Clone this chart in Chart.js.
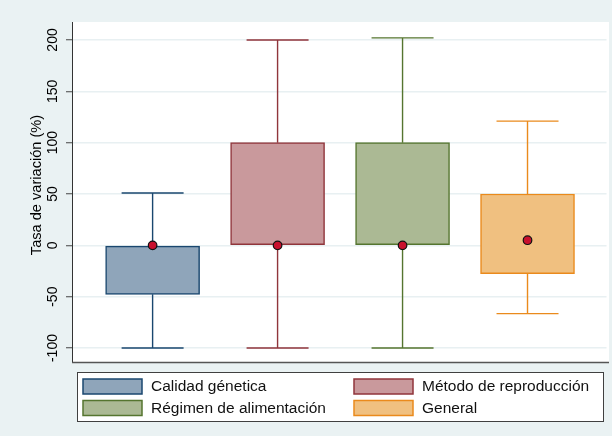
<!DOCTYPE html>
<html lang="es">
<head>
  <meta charset="UTF-8">
  <title>Tasa de variación</title>
  <script src="https://cdn.jsdelivr.net/npm/chart.js"></script>
  <style>
    body { margin: 0; background: #eaf2f3; }
    #wrap { width: 612px; height: 436px; }
  </style>
</head>
<body>
  <div id="wrap">
    <canvas id="boxChart" width="612" height="436"></canvas>
  </div>

  <script>
    // data
    const categories = ['Calidad génetica', 'Método de reproducción', 'Régimen de alimentación', 'General'];
    const boxLow = [-47.7, 0, 0, -27.6];
    const boxHigh = [0, 100, 100, 50];
    const whiskerLow = [-100, -100, -100, -66.5];
    const whiskerHigh = [51, 200, 202, 121];
    const markers = [0, 0, 0, 5];
    const yTicks = [-100, -50, 0, 50, 100, 150, 200];

    const fills = ['#8fa5ba', '#c9999c', '#abb994', '#f0c080'];
    const lines = ['#1a476f', '#90353b', '#55752f', '#ea8a1c'];
    const FONT = '"Liberation Sans", Arial, sans-serif';

    const datasets = categories.map((name, i) => ({
      type: 'bar',
      label: name,
      data: [{ x: i + 1, y: [boxLow[i], boxHigh[i]] }],
      backgroundColor: fills[i],
      borderColor: lines[i],
      borderWidth: 1.5,
      borderSkipped: false,
      barThickness: 94,
      grouped: false,
      order: 2
    }));

    datasets.push({
      type: 'scatter',
      label: 'marker',
      data: markers.map((v, i) => ({ x: i + 1, y: v })),
      pointRadius: 4.3,
      pointBackgroundColor: '#c8102e',
      pointBorderColor: '#111',
      pointBorderWidth: 1.2,
      order: 0
    });

    const boxPlotParts = {
      id: 'boxPlotParts',
      beforeDraw(chart) {
        const { ctx, chartArea } = chart;
        ctx.save();
        ctx.fillStyle = '#eaf2f3';
        ctx.fillRect(0, 0, chart.width, chart.height);
        // white plot region runs almost to the right edge
        ctx.fillStyle = '#ffffff';
        ctx.fillRect(chartArea.left, chartArea.top, chart.width - 3 - chartArea.left, chartArea.bottom - chartArea.top);
        ctx.restore();
      },
      beforeDatasetsDraw(chart) {
        const { ctx } = chart;
        const xs = chart.scales.x, ys = chart.scales.y;
        const capHalf = 31;
        ctx.save();
        ctx.lineWidth = 1.4;
        categories.forEach((c, i) => {
          const x = xs.getPixelForValue(i + 1);
          ctx.strokeStyle = lines[i];
          ctx.beginPath();
          ctx.moveTo(x, ys.getPixelForValue(boxHigh[i]));
          ctx.lineTo(x, ys.getPixelForValue(whiskerHigh[i]));
          ctx.moveTo(x, ys.getPixelForValue(boxLow[i]));
          ctx.lineTo(x, ys.getPixelForValue(whiskerLow[i]));
          ctx.moveTo(x - capHalf, ys.getPixelForValue(whiskerHigh[i]));
          ctx.lineTo(x + capHalf, ys.getPixelForValue(whiskerHigh[i]));
          ctx.moveTo(x - capHalf, ys.getPixelForValue(whiskerLow[i]));
          ctx.lineTo(x + capHalf, ys.getPixelForValue(whiskerLow[i]));
          ctx.stroke();
        });
        ctx.restore();
      },
      afterDraw(chart) {
        const { ctx, chartArea } = chart;
        const ys = chart.scales.y;
        ctx.save();

        // bottom axis line
        ctx.strokeStyle = '#555';
        ctx.lineWidth = 1.5;
        ctx.beginPath();
        ctx.moveTo(chartArea.left, chartArea.bottom + 0.5);
        ctx.lineTo(chart.width - 3, chartArea.bottom + 0.5);
        ctx.stroke();

        // rotated tick labels
        ctx.fillStyle = '#000';
        ctx.font = '14px ' + FONT;
        ctx.textAlign = 'center';
        ctx.textBaseline = 'middle';
        yTicks.forEach(v => {
          ctx.save();
          ctx.translate(53, ys.getPixelForValue(v));
          ctx.rotate(-Math.PI / 2);
          ctx.fillText(String(v), 0, 0);
          ctx.restore();
        });

        // axis title
        ctx.save();
        ctx.font = '14.6px ' + FONT;
        ctx.translate(37, 185);
        ctx.rotate(-Math.PI / 2);
        ctx.fillText('Tasa de variación (%)', 0, 0);
        ctx.restore();

        // legend
        ctx.fillStyle = '#ffffff';
        ctx.fillRect(77, 372.5, 526.5, 49);
        ctx.strokeStyle = '#404040';
        ctx.lineWidth = 1;
        ctx.strokeRect(77.5, 372.5, 526, 49);
        const cols = [83, 354];
        const rows = [379, 400.5];
        ctx.font = '15.5px ' + FONT;
        ctx.textAlign = 'left';
        categories.forEach((name, i) => {
          const sx = cols[i % 2], sy = rows[Math.floor(i / 2)];
          ctx.fillStyle = fills[i];
          ctx.fillRect(sx, sy, 59, 15);
          ctx.strokeStyle = lines[i];
          ctx.lineWidth = 1.5;
          ctx.strokeRect(sx, sy, 59, 15);
          ctx.fillStyle = '#111';
          ctx.fillText(name, sx + 68, sy + 8);
        });
        ctx.restore();
      }
    };

    new Chart(document.getElementById('boxChart'), {
      data: { datasets: datasets },
      options: {
        responsive: false,
        animation: false,
        layout: { padding: { left: 0, top: 22, right: 0, bottom: 74 } },
        plugins: {
          legend: { display: false },
          tooltip: { enabled: false }
        },
        scales: {
          x: {
            type: 'linear',
            min: 0.355,
            max: 4.632,
            offset: false,
            display: false
          },
          y: {
            type: 'linear',
            min: -113.6,
            max: 217.5,
            afterFit: (scale) => { scale.width = 72; },
            ticks: { display: false, stepSize: 50, includeBounds: false },
            grid: { color: '#e8f0f2', lineWidth: 1.5, drawTicks: true, tickLength: 6, tickColor: '#444', tickWidth: 1 },
            border: { display: true, color: '#333', width: 1 }
          }
        }
      },
      plugins: [boxPlotParts]
    });
  </script>
</body>
</html>
